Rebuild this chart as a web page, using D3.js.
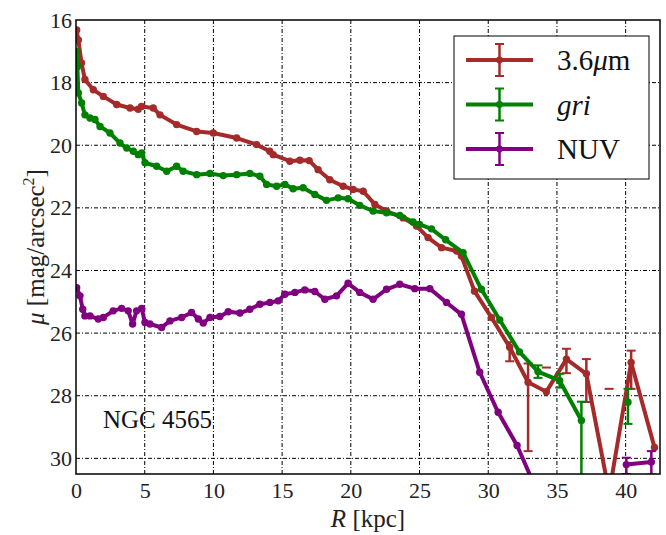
<!DOCTYPE html>
<html>
<head>
<meta charset="utf-8">
<script src="https://cdn.jsdelivr.net/npm/d3@7"></script>
<style>
  body { margin: 0; background: #fff; }
  svg { font-family: "Liberation Serif", "DejaVu Serif", serif; }
  .grid line { stroke: #000; stroke-width: 1; stroke-dasharray: 4,2,1,2; }
  .axis path, .axis line { display: none; }
  .axis text { font-size: 22px; fill: #222; font-family: "Liberation Serif", serif; }
</style>
</head>
<body>
<div class="chart-wrapper"></div>
<script>
// radius [kpc] and surface brightness [mag/arcsec^2]
const r36 = [0.05, 0.17, 0.4, 0.65, 1.26, 1.99, 2.96, 3.93, 4.53, 4.77, 5.62, 6.11, 7.32, 8.78, 9.99,
  11.69, 13.14, 14.1, 14.35, 15.56, 16.29, 16.97, 17.62, 18.47, 19.44, 20.17, 20.9, 21.75, 22.6, 23.8,
  24.78, 25.62, 26.6, 27.7, 28.05, 29.0, 30.23, 31.56, 32.9, 34.23, 35.69, 37.14, 38.8, 40.4, 42.1]
const mu36 = [16.32, 16.64, 17.37, 17.9, 18.23, 18.44, 18.7, 18.81, 18.85, 18.76, 18.81, 19.03, 19.34, 19.56, 19.61,
  19.77, 19.98, 20.19, 20.3, 20.51, 20.48, 20.49, 20.78, 21.1, 21.31, 21.41, 21.47, 21.89, 22.1, 22.32,
  22.58, 22.95, 23.27, 23.38, 23.54, 24.66, 25.5, 26.45, 27.57, 27.87, 26.83, 27.3, 31.1, 26.94, 29.65]

const rGri = [0.05, 0.1, 0.17, 0.41, 0.65, 1.02, 1.38, 1.75, 2.47, 3.2, 3.69, 4.17, 4.53, 4.78, 5.02, 5.87,
  6.6, 7.32, 7.8, 8.78, 9.75, 10.71, 11.69, 12.65, 13.38, 13.87, 14.6, 15.2, 15.8, 16.53, 17.38, 18.23,
  19.08, 19.8, 20.65, 21.62, 22.6, 23.56, 24.53, 25.0, 25.87, 26.9, 28.17, 29.5, 30.84, 32.27, 33.62,
  35.2, 36.78, 38.5, 40.17]
const muGri = [17.01, 17.49, 18.33, 18.65, 19.03, 19.13, 19.18, 19.4, 19.61, 19.93, 20.09, 20.19, 20.3, 20.25, 20.56, 20.67,
  20.83, 20.67, 20.83, 20.94, 20.9, 20.97, 20.94, 20.9, 20.99, 21.25, 21.31, 21.25, 21.39, 21.36, 21.57, 21.76,
  21.68, 21.71, 21.92, 22.1, 22.16, 22.24, 22.45, 22.53, 22.67, 23.02, 23.43, 24.6, 25.58, 26.6, 27.23,
  27.52, 28.79, null, 28.21]

const rNuv = [0.05, 0.29, 0.49, 0.65, 1.02, 1.62, 1.99, 2.71, 3.32, 3.8, 4.12, 4.41, 4.78, 5.02, 5.38, 6.23,
  6.84, 7.69, 8.41, 8.9, 9.26, 9.75, 10.47, 11.08, 11.93, 12.65, 13.38, 14.11, 14.71, 15.2, 15.93, 16.65,
  17.38, 18.11, 18.96, 19.8, 20.65, 21.62, 22.6, 23.56, 24.65, 25.75, 26.96, 28.05, 29.38, 30.72, 32.1,
  33.5, 37.0, 40.05, 41.87]
const muNuv = [24.55, 24.81, 25.24, 25.45, 25.45, 25.55, 25.5, 25.29, 25.21, 25.29, 25.71, 25.29, 25.21, 25.66, 25.71, 25.82,
  25.61, 25.5, 25.34, 25.55, 25.68, 25.5, 25.47, 25.32, 25.36, 25.24, 25.08, 25.02, 24.97, 24.76, 24.7, 24.62,
  24.67, 24.92, 24.81, 24.41, 24.7, 24.92, 24.6, 24.44, 24.58, 24.58, 25.02, 25.4, 27.25, 28.53, 29.59,
  31.0, null, 30.2, 30.12]

// error bars (upper = brighter, lower = fainter)
const err36R = [31.56, 32.9, 35.69, 37.14, 40.4]
const err36Up = [0.16, 0.6, 0.33, 0.47, 0.38]
const err36Dn = [0.45, 2.2, 0.45, 0.9, 0.84]
const cap36R = [34.23, 38.8]
const cap36Mu = [27.1, 27.78]

const errGriR = [33.62, 35.2, 36.78, 40.17]
const errGriUp = [0.2, 0.22, 0.6, 0.43]
const errGriDn = [0.2, 0.22, 3.0, 0.69]

const errNuvR = [40.05, 41.87]
const errNuvUp = [0.22, 0.35]
const errNuvDn = [0.3, 0.4]

const xTicks = [0, 5, 10, 15, 20, 25, 30, 35, 40]
const yTicks = [16, 18, 20, 22, 24, 26, 28, 30]

const width = 666, height = 535
const margin = {top: 20, right: 6, bottom: 61, left: 76}

let x = d3.scaleLinear().domain([0, 42.5]).range([margin.left, width - margin.right])
let y = d3.scaleLinear().domain([16, 30.5]).range([margin.top, height - margin.bottom])

let svg = d3.select(".chart-wrapper").append("svg")
  .attr("width", width)
  .attr("height", height)

svg.append("clipPath").attr("id", "clip")
  .append("rect")
  .attr("x", x(0)).attr("y", y(16))
  .attr("width", x(42.5) - x(0)).attr("height", y(30.5) - y(16))

// grid
let grid = svg.append("g").attr("class", "grid")
grid.selectAll(".gx").data(xTicks.filter(d => d > 0)).enter().append("line")
  .attr("x1", d => x(d)).attr("x2", d => x(d))
  .attr("y1", y(16)).attr("y2", y(30.5))
grid.selectAll(".gy").data(yTicks.filter(d => d > 16)).enter().append("line")
  .attr("x1", x(0)).attr("x2", x(42.5))
  .attr("y1", d => y(d)).attr("y2", d => y(d))

svg.append("g")
  .attr("class", "x axis")
  .attr("transform", "translate(0," + y(30.5) + ")")
  .call(d3.axisBottom(x).tickValues(xTicks).tickSize(0).tickPadding(8))

svg.append("g")
  .attr("class", "y axis")
  .attr("transform", "translate(" + x(0) + ",0)")
  .call(d3.axisLeft(y).tickValues(yTicks).tickSize(0).tickPadding(4))

let series = [
  {r: r36, mu: mu36, color: "#a52a2a", eR: err36R, eUp: err36Up, eDn: err36Dn, capR: cap36R, capMu: cap36Mu},
  {r: rGri, mu: muGri, color: "#008000", eR: errGriR, eUp: errGriUp, eDn: errGriDn, capR: [], capMu: []},
  {r: rNuv, mu: muNuv, color: "#800080", eR: errNuvR, eUp: errNuvUp, eDn: errNuvDn, capR: [], capMu: []}
]

let valueline = d3.line()
  .defined(d => d[1] != null)
  .x(d => x(d[0]))
  .y(d => y(d[1]))

let plot = svg.append("g").attr("clip-path", "url(#clip)")

series.forEach(s => {
  let pts = s.r.map((r, i) => [r, s.mu[i]])
  let g = plot.append("g")

  g.append("path")
    .datum(pts)
    .attr("fill", "none")
    .attr("stroke", s.color)
    .attr("stroke-width", 4)
    .attr("stroke-linejoin", "round")
    .attr("d", valueline)

  g.selectAll("circle").data(pts.filter(p => p[1] != null)).enter().append("circle")
    .attr("cx", d => x(d[0]))
    .attr("cy", d => y(d[1]))
    .attr("r", 3.7)
    .attr("fill", s.color)

  s.eR.forEach((r, i) => {
    let m = s.mu[s.r.indexOf(r)]
    let top = y(m - s.eUp[i]), bot = y(m + s.eDn[i])
    g.append("line")
      .attr("x1", x(r)).attr("x2", x(r))
      .attr("y1", top).attr("y2", bot)
      .attr("stroke", s.color).attr("stroke-width", 2.5)
    ;[top, bot].forEach(yy => {
      g.append("line")
        .attr("x1", x(r) - 4.5).attr("x2", x(r) + 4.5)
        .attr("y1", yy).attr("y2", yy)
        .attr("stroke", s.color).attr("stroke-width", 2)
    })
  })

  s.capR.forEach((r, i) => {
    g.append("line")
      .attr("x1", x(r) - 4.5).attr("x2", x(r) + 4.5)
      .attr("y1", y(s.capMu[i])).attr("y2", y(s.capMu[i]))
      .attr("stroke", s.color).attr("stroke-width", 2)
  })
})

// frame
svg.append("rect")
  .attr("x", x(0)).attr("y", y(16))
  .attr("width", x(42.5) - x(0)).attr("height", y(30.5) - y(16))
  .attr("fill", "none")
  .attr("stroke", "#000")
  .attr("stroke-width", 1.5)

svg.append("text")
  .attr("x", 103).attr("y", 428)
  .attr("font-size", 25)
  .attr("fill", "#111")
  .text("NGC 4565")

// axis labels
let xl = svg.append("text")
  .attr("x", (x(0) + x(42.5)) / 2).attr("y", 527)
  .attr("text-anchor", "middle")
  .attr("font-size", 25)
  .attr("fill", "#222")
xl.append("tspan").attr("font-style", "italic").text("R")
xl.append("tspan").text(" [kpc]")

let yl = svg.append("text")
  .attr("transform", "translate(44," + ((y(16) + y(30.5)) / 2) + ") rotate(-90)")
  .attr("text-anchor", "middle")
  .attr("font-size", 25)
  .attr("fill", "#222")
yl.append("tspan").attr("font-style", "italic").text("μ")
yl.append("tspan").text(" [mag/arcsec")
yl.append("tspan").attr("font-size", 16).attr("dy", -10).text("2")
yl.append("tspan").attr("dy", 10).text("]")

// legend
let legend = svg.append("g")
legend.append("rect")
  .attr("x", 454).attr("y", 36)
  .attr("width", 195).attr("height", 143)
  .attr("fill", "#fff")
  .attr("stroke", "#000")
  .attr("stroke-width", 1)

let legendNames = [["3.6", "μ", "m"], ["", "gri", ""], ["NUV", "", ""]]
series.forEach((s, i) => {
  let ly = 60 + i * 44.5
  legend.append("line")
    .attr("x1", 466).attr("x2", 533).attr("y1", ly).attr("y2", ly)
    .attr("stroke", s.color).attr("stroke-width", 4)
  legend.append("line")
    .attr("x1", 499.5).attr("x2", 499.5).attr("y1", ly - 16).attr("y2", ly + 16)
    .attr("stroke", s.color).attr("stroke-width", 2.5)
  ;[ly - 16, ly + 16].forEach(yy => {
    legend.append("line")
      .attr("x1", 495).attr("x2", 504).attr("y1", yy).attr("y2", yy)
      .attr("stroke", s.color).attr("stroke-width", 2)
  })
  legend.append("circle").attr("cx", 499.5).attr("cy", ly).attr("r", 3.4).attr("fill", s.color)
  let t = legend.append("text")
    .attr("x", 557).attr("y", ly).attr("dy", "0.35em")
    .attr("font-size", 29)
    .attr("fill", "#111")
  t.append("tspan").text(legendNames[i][0])
  t.append("tspan").attr("font-style", "italic").text(legendNames[i][1])
  t.append("tspan").text(legendNames[i][2])
})
</script>
</body>
</html>
